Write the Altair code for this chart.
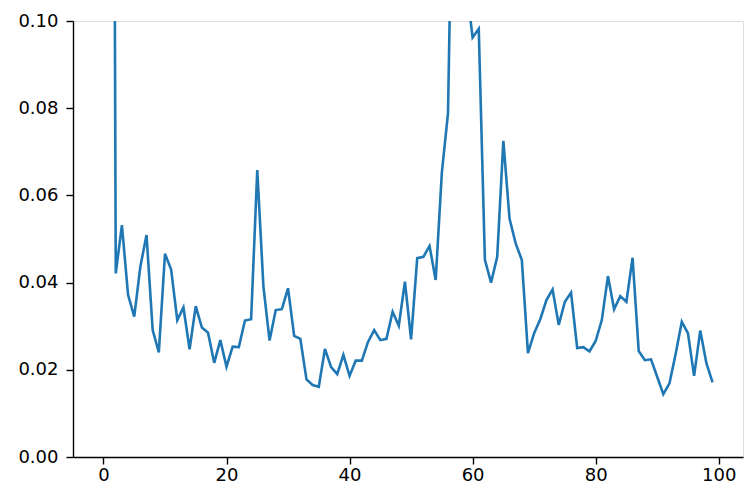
import altair as alt
import pandas as pd

x_vals = list(range(100))
y_vals = [
    0.90, 0.45, 0.0421, 0.0532, 0.0372, 0.0322, 0.0437, 0.0509, 0.0291, 0.0240,
    0.0466, 0.0430, 0.0314, 0.0343, 0.0247, 0.0346, 0.0297, 0.0285, 0.0216, 0.0268,
    0.0207, 0.0253, 0.0252, 0.0313, 0.0316, 0.0658, 0.0391, 0.0267, 0.0337, 0.0339,
    0.0387, 0.0278, 0.0271, 0.0178, 0.0165, 0.0161, 0.0248, 0.0206, 0.0190, 0.0234,
    0.0186, 0.0221, 0.0221, 0.0264, 0.0291, 0.0268, 0.0271, 0.0333, 0.0301, 0.0402,
    0.0270, 0.0456, 0.0459, 0.0484, 0.0406, 0.0652, 0.0788, 0.160, 0.130, 0.108,
    0.0962, 0.0982, 0.0452, 0.0400, 0.0459, 0.0725, 0.0547, 0.0490, 0.0452, 0.0238,
    0.0284, 0.0316, 0.0360, 0.0384, 0.0303, 0.0356, 0.0377, 0.0250, 0.0252, 0.0242,
    0.0266, 0.0314, 0.0415, 0.0339, 0.0369, 0.0356, 0.0457, 0.0243, 0.0222, 0.0224,
    0.0184, 0.0144, 0.0169, 0.0236, 0.0310, 0.0284, 0.0186, 0.0290, 0.0215, 0.0171,
]

x_ticks = [0, 20, 40, 60, 80, 100]
y_ticks = [0.0, 0.02, 0.04, 0.06, 0.08, 0.10]

df = pd.DataFrame({"x": x_vals, "y": y_vals})

chart = alt.Chart(df).mark_line(color="#1f77b4", strokeWidth=2.6, clip=True).encode(
    x=alt.X("x:Q", scale=alt.Scale(domain=[-4.95, 103.95], nice=False, zero=False),
            axis=alt.Axis(values=x_ticks, title=None, grid=False, format="d",
                          labelFont="DejaVu Sans", labelFontSize=18, labelColor="black",
                          tickColor="black", tickSize=7, tickWidth=1.4,
                          domainColor="black", domainWidth=1.4, labelPadding=2,
                          labelFlush=False)),
    y=alt.Y("y:Q", scale=alt.Scale(domain=[0, 0.1], nice=False),
            axis=alt.Axis(values=y_ticks, title=None, grid=False, format=".2f",
                          labelFont="DejaVu Sans", labelFontSize=18, labelColor="black",
                          tickColor="black", tickSize=7, tickWidth=1.4,
                          domainColor="black", domainWidth=1.4, labelPadding=8,
                          labelFlush=False)),
).properties(
    width=670, height=436,
    autosize=alt.AutoSizeParams(type="none"),
    padding={"left": 65, "top": 13, "right": 5, "bottom": 40},
).configure_view(stroke="black", strokeWidth=1.4).configure(background="white")

chart.save("out.html", embed_options={"renderer": "svg", "actions": False})
